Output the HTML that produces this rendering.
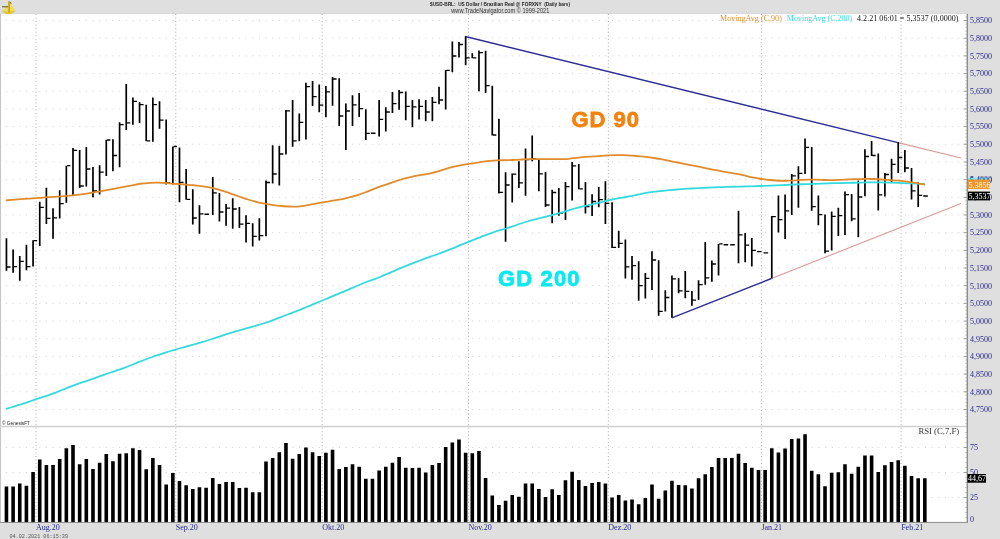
<!DOCTYPE html><html><head><meta charset="utf-8"><title>USD-BRL</title><style>html,body{margin:0;padding:0;background:#fff;width:1000px;height:539px;overflow:hidden}svg{display:block}text{font-family:"Liberation Serif","Times New Roman",serif}.s{font-family:"Liberation Sans",Arial,sans-serif}.m{font-family:"Liberation Mono","Courier New",monospace}</style></head><body>
<svg width="1000" height="539" viewBox="0 0 1000 539">
<rect x="0" y="0" width="1000" height="539" fill="#ffffff"/>
<rect x="0" y="0" width="1000" height="14" fill="#dfdfdf"/>
<rect x="0" y="12.6" width="1000" height="1.4" fill="#dadada"/>
<rect x="968" y="0" width="32" height="539" fill="#dfdfdf"/>
<rect x="0" y="522.5" width="1000" height="16.5" fill="#dfdfdf"/>
<rect x="0" y="14" width="1" height="508.5" fill="#c4c4c4"/>
<path d="M1 20.5H966.5M1 38.18H966.5M1 55.86H966.5M1 73.54H966.5M1 91.22H966.5M1 108.9H966.5M1 126.58H966.5M1 144.26H966.5M1 161.94H966.5M1 179.62H966.5M1 197.3H966.5M1 214.98H966.5M1 232.66H966.5M1 250.34H966.5M1 268.02H966.5M1 285.7H966.5M1 303.38H966.5M1 321.06H966.5M1 338.74H966.5M1 356.42H966.5M1 374.1H966.5M1 391.78H966.5M1 409.46H966.5M1 447.5H966.5M1 472.5H966.5M1 497.5H966.5" stroke="#d0d0d0" stroke-width="1" stroke-dasharray="1 5.66" stroke-dashoffset="-4.95" fill="none"/>
<path d="M36 14V522.5M175.75 14V522.5M322.17 14V522.5M468.57 14V522.5M608.33 14V522.5M761.39 14V522.5M901.15 14V522.5" stroke="#a8a8a8" stroke-width="1" stroke-dasharray="1 2.536" fill="none"/>
<rect x="0" y="425.75" width="967.5" height="1.5" fill="#d0d0d0"/>
<path d="M898 142.6L961 158M771.4 278.5L961 203.6" stroke="#d89a98" stroke-width="1.1" fill="none"/>
<path d="M5.6 238.2h1.7v32.5h-1.7zM7.3 266.35h3.2v1.3h-3.2zM12.26 249.4h1.7v23.3h-1.7zM13.96 265.95h3.2v1.3h-3.2zM18.91 256h1.7v24.7h-1.7zM20.61 260.75h3.2v1.3h-3.2zM25.57 244.7h1.7v25.6h-1.7zM27.27 265.95h3.2v1.3h-3.2zM32.22 240.3h1.7v26.3h-1.7zM33.92 240.05h3.2v1.3h-3.2zM38.88 201.7h1.7v44.2h-1.7zM40.58 206.65h3.2v1.3h-3.2zM45.53 187.8h1.7v36.2h-1.7zM47.23 217.75h3.2v1.3h-3.2zM52.19 208.2h1.7v30.6h-1.7zM53.89 217.15h3.2v1.3h-3.2zM58.84 190.2h1.7v28.2h-1.7zM60.54 202.95h3.2v1.3h-3.2zM65.5 165.7h1.7v37.1h-1.7zM67.2 165.05h3.2v1.3h-3.2zM72.15 148h1.7v47h-1.7zM73.85 149.75h3.2v1.3h-3.2zM78.81 149.9h1.7v38.1h-1.7zM80.51 185.35h3.2v1.3h-3.2zM85.46 147.1h1.7v39.3h-1.7zM87.16 168.35h3.2v1.3h-3.2zM92.12 167.1h1.7v30.1h-1.7zM93.82 190.35h3.2v1.3h-3.2zM98.77 165.3h1.7v29.1h-1.7zM100.47 171.55h3.2v1.3h-3.2zM105.43 139.7h1.7v36.2h-1.7zM107.13 139.35h3.2v1.3h-3.2zM112.08 139.3h1.7v31.9h-1.7zM113.78 154.85h3.2v1.3h-3.2zM118.74 122.3h1.7v44.9h-1.7zM120.44 124.05h3.2v1.3h-3.2zM125.39 83.9h1.7v46.2h-1.7zM127.09 122.25h3.2v1.3h-3.2zM132.05 97.6h1.7v27.1h-1.7zM133.75 100.65h3.2v1.3h-3.2zM138.7 101.9h1.7v21h-1.7zM140.4 104.05h3.2v1.3h-3.2zM145.36 104.7h1.7v36.5h-1.7zM147.06 140.25h3.2v1.3h-3.2zM152.01 97.6h1.7v44.2h-1.7zM153.71 104.05h3.2v1.3h-3.2zM158.67 101.3h1.7v27.5h-1.7zM160.37 119.45h3.2v1.3h-3.2zM165.32 119.5h1.7v65h-1.7zM167.02 182.35h3.2v1.3h-3.2zM171.98 146.5h1.7v38h-1.7zM173.68 145.85h3.2v1.3h-3.2zM178.63 147.4h1.7v54.8h-1.7zM180.33 181.65h3.2v1.3h-3.2zM185.29 169.1h1.7v30.6h-1.7zM186.99 198.75h3.2v1.3h-3.2zM191.94 189.2h1.7v35.2h-1.7zM193.64 217.35h3.2v1.3h-3.2zM198.6 205.3h1.7v28.4h-1.7zM200.3 213.15h3.2v1.3h-3.2zM204.5 213.5h4.6v1.4h-4.6zM211.91 177.1h1.7v38h-1.7zM213.61 192.25h3.2v1.3h-3.2zM218.56 193h1.7v28.5h-1.7zM220.26 211.35h3.2v1.3h-3.2zM225.22 204h1.7v21.7h-1.7zM226.92 207.45h3.2v1.3h-3.2zM231.87 198.2h1.7v30.6h-1.7zM233.57 208.35h3.2v1.3h-3.2zM238.53 207.1h1.7v20.8h-1.7zM240.23 223.55h3.2v1.3h-3.2zM245.18 215.3h1.7v27.1h-1.7zM246.88 222.65h3.2v1.3h-3.2zM251.84 223.3h1.7v23.2h-1.7zM253.54 235.65h3.2v1.3h-3.2zM258.49 218.3h1.7v22.2h-1.7zM260.19 235.05h3.2v1.3h-3.2zM265.15 180.4h1.7v55.9h-1.7zM266.85 181.85h3.2v1.3h-3.2zM271.8 145.3h1.7v38.2h-1.7zM273.5 173.35h3.2v1.3h-3.2zM278.46 145.7h1.7v39.7h-1.7zM280.16 153.35h3.2v1.3h-3.2zM285.11 110.1h1.7v44.5h-1.7zM286.81 110.15h3.2v1.3h-3.2zM291.77 100.1h1.7v46.7h-1.7zM293.47 140.15h3.2v1.3h-3.2zM298.42 113.4h1.7v27.9h-1.7zM300.12 121.65h3.2v1.3h-3.2zM305.08 82.7h1.7v56.8h-1.7zM306.78 86.05h3.2v1.3h-3.2zM311.73 81.1h1.7v25h-1.7zM313.43 96.05h3.2v1.3h-3.2zM318.39 84.5h1.7v27.8h-1.7zM320.09 104.55h3.2v1.3h-3.2zM325.04 86h1.7v31.2h-1.7zM326.74 91.15h3.2v1.3h-3.2zM331.7 77.1h1.7v28.7h-1.7zM333.4 78.35h3.2v1.3h-3.2zM338.35 78.2h1.7v47.7h-1.7zM340.05 115.35h3.2v1.3h-3.2zM345.01 103.6h1.7v46.4h-1.7zM346.71 110.35h3.2v1.3h-3.2zM351.66 95.3h1.7v30.6h-1.7zM353.36 104.25h3.2v1.3h-3.2zM358.32 93h1.7v24.1h-1.7zM360.02 107.95h3.2v1.3h-3.2zM364.97 109.2h1.7v30.9h-1.7zM366.67 132.65h3.2v1.3h-3.2zM370.88 132.6h4.6v1.4h-4.6zM378.28 99.9h1.7v36.5h-1.7zM379.98 118.75h3.2v1.3h-3.2zM384.94 107.3h1.7v24.1h-1.7zM386.64 111.35h3.2v1.3h-3.2zM391.59 91.9h1.7v21h-1.7zM393.29 102.95h3.2v1.3h-3.2zM398.25 90.1h1.7v19.6h-1.7zM399.95 91.85h3.2v1.3h-3.2zM404.9 91.5h1.7v28.8h-1.7zM406.6 105.75h3.2v1.3h-3.2zM411.56 99.9h1.7v27.3h-1.7zM413.26 106.15h3.2v1.3h-3.2zM418.21 99.3h1.7v20.1h-1.7zM419.91 105.75h3.2v1.3h-3.2zM424.87 99.9h1.7v21.3h-1.7zM426.57 111.35h3.2v1.3h-3.2zM431.52 97h1.7v24.2h-1.7zM433.22 101.75h3.2v1.3h-3.2zM438.18 86.8h1.7v17.5h-1.7zM439.88 99.35h3.2v1.3h-3.2zM444.83 69.9h1.7v39.5h-1.7zM446.53 69.75h3.2v1.3h-3.2zM451.49 41.5h1.7v30.8h-1.7zM453.19 55.35h3.2v1.3h-3.2zM458.14 42.1h1.7v15.4h-1.7zM459.84 43.85h3.2v1.3h-3.2zM464.8 36.1h1.7v29.2h-1.7zM466.5 57.15h3.2v1.3h-3.2zM471.45 53.2h1.7v5h-1.7zM473.15 57.15h3.2v1.3h-3.2zM478.11 50.4h1.7v40.8h-1.7zM479.81 51.95h3.2v1.3h-3.2zM484.76 50.8h1.7v42.3h-1.7zM486.46 85.05h3.2v1.3h-3.2zM491.42 85.7h1.7v49.9h-1.7zM493.12 134.35h3.2v1.3h-3.2zM498.07 118.7h1.7v74.8h-1.7zM499.77 191.75h3.2v1.3h-3.2zM504.73 172.3h1.7v69.5h-1.7zM506.43 184.35h3.2v1.3h-3.2zM511.38 173.5h1.7v28.9h-1.7zM513.08 173.45h3.2v1.3h-3.2zM518.04 161.2h1.7v26.7h-1.7zM519.74 182.15h3.2v1.3h-3.2zM524.69 148.5h1.7v47.2h-1.7zM526.39 158.95h3.2v1.3h-3.2zM531.35 135.6h1.7v25.6h-1.7zM533.05 158.35h3.2v1.3h-3.2zM538 160.1h1.7v31.2h-1.7zM539.7 173.25h3.2v1.3h-3.2zM544.66 172h1.7v35.1h-1.7zM546.36 204.35h3.2v1.3h-3.2zM551.31 189.8h1.7v33.4h-1.7zM553.01 191.85h3.2v1.3h-3.2zM557.97 188.1h1.7v27.7h-1.7zM559.67 212.35h3.2v1.3h-3.2zM564.62 181.9h1.7v38.2h-1.7zM566.32 186.05h3.2v1.3h-3.2zM571.28 162.1h1.7v38.4h-1.7zM572.98 165.15h3.2v1.3h-3.2zM577.93 163.9h1.7v25.4h-1.7zM579.63 188.15h3.2v1.3h-3.2zM584.59 182h1.7v31.6h-1.7zM586.29 205.95h3.2v1.3h-3.2zM591.24 194.3h1.7v21.6h-1.7zM592.94 200.85h3.2v1.3h-3.2zM597.9 187h1.7v20.3h-1.7zM599.6 199.05h3.2v1.3h-3.2zM604.55 181.3h1.7v42.7h-1.7zM606.25 202.65h3.2v1.3h-3.2zM611.21 202.2h1.7v45.7h-1.7zM612.91 246.75h3.2v1.3h-3.2zM617.86 230.7h1.7v17.2h-1.7zM619.56 242.75h3.2v1.3h-3.2zM624.52 239.6h1.7v38.8h-1.7zM626.22 266.15h3.2v1.3h-3.2zM631.17 256.1h1.7v23.6h-1.7zM632.87 265.05h3.2v1.3h-3.2zM637.83 261.2h1.7v39.5h-1.7zM639.53 285.05h3.2v1.3h-3.2zM644.48 273h1.7v25.4h-1.7zM646.18 277.75h3.2v1.3h-3.2zM651.14 251.2h1.7v38.9h-1.7zM652.84 259.35h3.2v1.3h-3.2zM657.79 260.2h1.7v55.5h-1.7zM659.49 310.75h3.2v1.3h-3.2zM664.45 290.2h1.7v21.2h-1.7zM666.15 296.85h3.2v1.3h-3.2zM671.1 275.5h1.7v42.3h-1.7zM672.8 278.15h3.2v1.3h-3.2zM677.76 277.9h1.7v15.4h-1.7zM679.46 290.25h3.2v1.3h-3.2zM684.41 271h1.7v27.3h-1.7zM686.11 290.75h3.2v1.3h-3.2zM691.07 290.9h1.7v14.8h-1.7zM692.77 299.45h3.2v1.3h-3.2zM697.72 280.3h1.7v19.8h-1.7zM699.42 284.05h3.2v1.3h-3.2zM704.38 242.1h1.7v42.6h-1.7zM706.08 277.25h3.2v1.3h-3.2zM711.03 260.5h1.7v21.2h-1.7zM712.73 263.35h3.2v1.3h-3.2zM717.69 243.9h1.7v31.5h-1.7zM719.39 243.25h3.2v1.3h-3.2zM723.59 244h4.6v1.4h-4.6zM730.25 244h4.6v1.4h-4.6zM737.65 210.8h1.7v52.5h-1.7zM739.35 234.25h3.2v1.3h-3.2zM744.31 233h1.7v29.2h-1.7zM746.01 244.45h3.2v1.3h-3.2zM750.96 238h1.7v28.4h-1.7zM752.66 249.65h3.2v1.3h-3.2zM756.87 250.9h4.6v1.4h-4.6zM763.52 252.2h4.6v1.4h-4.6zM770.93 216h1.7v62.5h-1.7zM772.63 215.95h3.2v1.3h-3.2zM777.58 195.6h1.7v36.9h-1.7zM779.28 219.05h3.2v1.3h-3.2zM784.24 194.6h1.7v44.4h-1.7zM785.94 210.15h3.2v1.3h-3.2zM790.89 174.1h1.7v40.8h-1.7zM792.59 175.15h3.2v1.3h-3.2zM797.55 166.2h1.7v41.5h-1.7zM799.25 172.75h3.2v1.3h-3.2zM804.2 138.4h1.7v35.5h-1.7zM805.9 146.75h3.2v1.3h-3.2zM810.86 146.9h1.7v63.9h-1.7zM812.56 206.05h3.2v1.3h-3.2zM817.51 195.6h1.7v29.7h-1.7zM819.21 213.95h3.2v1.3h-3.2zM824.17 214.6h1.7v38.6h-1.7zM825.87 250.55h3.2v1.3h-3.2zM830.82 211.5h1.7v39.1h-1.7zM832.52 215.65h3.2v1.3h-3.2zM837.48 207.7h1.7v28.4h-1.7zM839.18 214.95h3.2v1.3h-3.2zM844.13 191.5h1.7v43.4h-1.7zM845.83 193.95h3.2v1.3h-3.2zM850.79 193.9h1.7v27.3h-1.7zM852.49 218.15h3.2v1.3h-3.2zM857.44 180.6h1.7v56.7h-1.7zM859.14 196.35h3.2v1.3h-3.2zM864.1 149.3h1.7v47h-1.7zM865.8 155.85h3.2v1.3h-3.2zM870.75 141h1.7v15h-1.7zM872.45 154.85h3.2v1.3h-3.2zM877.41 153.4h1.7v57h-1.7zM879.11 194.15h3.2v1.3h-3.2zM884.06 173h1.7v23.4h-1.7zM885.76 173.85h3.2v1.3h-3.2zM890.72 158.8h1.7v24.1h-1.7zM892.42 163.65h3.2v1.3h-3.2zM897.37 142.1h1.7v30.9h-1.7zM899.07 156.85h3.2v1.3h-3.2zM904.03 150h1.7v22.3h-1.7zM905.73 167.35h3.2v1.3h-3.2zM910.68 168h1.7v31.6h-1.7zM912.38 190.25h3.2v1.3h-3.2zM917.34 182.3h1.7v24.7h-1.7zM919.04 194.65h3.2v1.3h-3.2zM923.24 195.3h4.6v1.4h-4.6z" fill="#000"/>
<path d="M6 408.9C7.32 408.51 11.42 407.31 13.9 406.55C16.38 405.79 18.58 405.07 20.9 404.32C23.22 403.58 25.48 402.85 27.8 402.08C30.12 401.3 32.47 400.46 34.8 399.68C37.13 398.89 39.48 398.13 41.8 397.38C44.12 396.62 46.38 395.93 48.7 395.12C51.02 394.32 53.38 393.45 55.7 392.55C58.02 391.65 60.28 390.66 62.6 389.73C64.92 388.79 67.28 387.85 69.6 386.95C71.92 386.05 74.18 385.17 76.5 384.32C78.82 383.48 81.17 382.69 83.5 381.9C85.83 381.11 88.18 380.39 90.5 379.6C92.82 378.81 95.08 377.98 97.4 377.15C99.72 376.32 102.08 375.44 104.4 374.62C106.72 373.81 108.98 373.02 111.3 372.25C113.62 371.48 116.02 370.76 118.3 369.97C120.58 369.19 122.72 368.42 125 367.55C127.28 366.68 129.67 365.71 132 364.77C134.33 363.84 136.67 362.84 139 361.93C141.33 361.01 143.67 360.13 146 359.27C148.33 358.42 150.67 357.6 153 356.77C155.33 355.95 157.67 355.11 160 354.33C162.33 353.54 164.67 352.77 167 352.05C169.33 351.33 171.67 350.7 174 350.02C176.33 349.35 178.67 348.67 181 348C183.33 347.33 185.67 346.66 188 346.02C190.33 345.39 192.67 344.81 195 344.18C197.33 343.54 199.67 342.9 202 342.2C204.33 341.5 206.67 340.75 209 340C211.33 339.25 213.67 338.47 216 337.7C218.33 336.93 220.67 336.17 223 335.4C225.33 334.63 227.67 333.85 230 333.1C232.33 332.35 234.67 331.6 237 330.92C239.33 330.25 241.83 329.62 244 329.02C246.17 328.42 247.83 327.92 250 327.32C252.17 326.73 254.67 326.15 257 325.48C259.33 324.8 261.67 324.03 264 323.25C266.33 322.47 268.67 321.63 271 320.78C273.33 319.93 275.67 319.03 278 318.15C280.33 317.27 282.67 316.36 285 315.48C287.33 314.59 289.67 313.72 292 312.82C294.33 311.93 296.67 311.03 299 310.1C301.33 309.17 303.67 308.21 306 307.25C308.33 306.29 310.67 305.31 313 304.35C315.33 303.39 317.67 302.46 320 301.5C322.33 300.54 324.67 299.58 327 298.6C329.33 297.62 331.67 296.58 334 295.6C336.33 294.62 338.67 293.67 341 292.7C343.33 291.73 345.67 290.79 348 289.8C350.33 288.81 352.67 287.76 355 286.75C357.33 285.74 359.67 284.7 362 283.75C364.33 282.8 366.67 281.89 369 281.02C371.33 280.16 373.83 279.4 376 278.57C378.17 277.75 379.83 276.95 382 276.05C384.17 275.15 386.67 274.14 389 273.15C391.33 272.16 393.67 271.09 396 270.1C398.33 269.11 400.67 268.15 403 267.2C405.33 266.25 407.67 265.33 410 264.4C412.33 263.47 414.67 262.51 417 261.6C419.33 260.69 421.67 259.78 424 258.93C426.33 258.07 428.67 257.27 431 256.45C433.33 255.63 435.67 254.84 438 254C440.33 253.16 442.67 252.32 445 251.43C447.33 250.53 449.67 249.58 452 248.62C454.33 247.67 456.67 246.64 459 245.68C461.33 244.71 463.67 243.76 466 242.83C468.33 241.89 470.67 241 473 240.07C475.33 239.15 477.67 238.22 480 237.3C482.33 236.38 484.67 235.41 487 234.55C489.33 233.69 491.83 232.87 494 232.15C496.17 231.43 497.83 230.88 500 230.22C502.17 229.57 504.67 228.97 507 228.25C509.33 227.53 511.67 226.7 514 225.9C516.33 225.1 518.67 224.25 521 223.48C523.33 222.7 525.67 221.95 528 221.25C530.33 220.55 532.67 219.92 535 219.3C537.33 218.68 539.67 218.13 542 217.55C544.33 216.97 546.67 216.4 549 215.83C551.33 215.25 553.67 214.69 556 214.07C558.33 213.46 560.67 212.84 563 212.15C565.33 211.46 567.67 210.65 570 209.93C572.33 209.2 574.67 208.41 577 207.78C579.33 207.14 581.67 206.62 584 206.1C586.33 205.58 588.67 205.18 591 204.65C593.33 204.12 595.67 203.52 598 202.92C600.33 202.33 602.67 201.65 605 201.07C607.33 200.5 609.67 199.98 612 199.5C614.33 199.02 616.67 198.59 619 198.18C621.33 197.76 623.83 197.4 626 197C628.17 196.6 629.83 196.22 632 195.77C634.17 195.33 636.67 194.82 639 194.35C641.33 193.88 643.67 193.38 646 192.98C648.33 192.57 650.67 192.21 653 191.9C655.33 191.59 657.67 191.35 660 191.1C662.33 190.85 664.67 190.62 667 190.4C669.33 190.17 671.67 189.95 674 189.75C676.33 189.55 678.67 189.37 681 189.2C683.33 189.03 685.67 188.87 688 188.72C690.33 188.57 692.67 188.43 695 188.3C697.33 188.17 699.67 188.04 702 187.93C704.33 187.81 706.67 187.7 709 187.6C711.33 187.5 713.67 187.39 716 187.3C718.33 187.21 720.67 187.12 723 187.05C725.33 186.97 727.67 186.92 730 186.85C732.33 186.78 734.67 186.71 737 186.65C739.33 186.59 741.67 186.54 744 186.48C746.33 186.41 747.83 186.37 751 186.28C754.17 186.18 758.83 186.07 763 185.92C767.17 185.77 771.67 185.57 776 185.38C780.33 185.18 784.67 184.96 789 184.77C793.33 184.59 797.67 184.43 802 184.27C806.33 184.12 810.67 183.97 815 183.83C819.33 183.68 823.67 183.53 828 183.4C832.33 183.27 836.67 183.16 841 183.05C845.33 182.94 849.67 182.85 854 182.75C858.33 182.65 862.67 182.51 867 182.45C871.33 182.39 874.83 182.34 880 182.4C885.17 182.46 892.67 182.62 898 182.8C903.33 182.97 907.5 183.22 912 183.45C916.5 183.68 922.83 184.07 925 184.2" stroke="#34dade" stroke-width="1.8" fill="none" stroke-linejoin="round"/>
<path d="M6 200.4C7.42 200.26 10.67 199.85 14.5 199.55C18.33 199.25 24.17 198.9 29 198.57C33.83 198.25 38.67 197.9 43.5 197.57C48.33 197.25 53.17 197.01 58 196.65C62.83 196.29 67.67 195.95 72.5 195.42C77.33 194.9 82.17 194.24 87 193.52C91.83 192.81 96.67 191.98 101.5 191.12C106.33 190.27 111.17 189.3 116 188.4C120.83 187.5 126.5 186.47 130.5 185.7C134.5 184.92 136.75 184.23 140 183.75C143.25 183.27 147 182.98 150 182.8C153 182.62 155.17 182.6 158 182.65C160.83 182.7 164 182.91 167 183.1C170 183.29 173 183.57 176 183.8C179 184.03 182 184.23 185 184.48C188 184.72 191 184.95 194 185.25C197 185.55 200 185.84 203 186.27C206 186.71 209 187.18 212 187.85C215 188.53 218 189.4 221 190.32C224 191.25 227 192.35 230 193.38C233 194.4 236 195.48 239 196.5C242 197.52 245 198.57 248 199.5C251 200.43 254 201.31 257 202.05C260 202.79 263 203.4 266 203.95C269 204.5 272 204.96 275 205.35C278 205.74 281 206.06 284 206.27C287 206.49 290.33 206.64 293 206.65C295.67 206.66 297.75 206.55 300 206.32C302.25 206.1 304.33 205.68 306.5 205.3C308.67 204.92 310.83 204.45 313 204.05C315.17 203.65 317.33 203.27 319.5 202.9C321.67 202.52 323.83 202.16 326 201.8C328.17 201.44 330.33 201.09 332.5 200.73C334.67 200.36 336.83 200.03 339 199.62C341.17 199.22 343.33 198.78 345.5 198.28C347.67 197.78 349.83 197.21 352 196.62C354.17 196.04 356.33 195.46 358.5 194.77C360.67 194.09 362.83 193.31 365 192.5C367.17 191.69 369.33 190.74 371.5 189.9C373.67 189.06 375.83 188.25 378 187.45C380.17 186.65 382.33 185.9 384.5 185.12C386.67 184.35 388.83 183.57 391 182.83C393.17 182.08 395.33 181.34 397.5 180.65C399.67 179.96 401.83 179.3 404 178.7C406.17 178.1 408.33 177.56 410.5 177.05C412.67 176.54 414.58 176.07 417 175.62C419.42 175.18 422.58 174.78 425 174.35C427.42 173.93 429.33 173.56 431.5 173.08C433.67 172.59 435.83 172.04 438 171.43C440.17 170.81 442.33 170.05 444.5 169.38C446.67 168.7 448.83 167.99 451 167.4C453.17 166.81 455.33 166.3 457.5 165.85C459.67 165.4 461.83 165.05 464 164.7C466.17 164.35 468.33 164.06 470.5 163.72C472.67 163.39 474.83 163.05 477 162.7C479.17 162.35 481.33 161.95 483.5 161.65C485.67 161.35 487.83 161.07 490 160.88C492.17 160.68 494.33 160.55 496.5 160.45C498.67 160.35 500.83 160.3 503 160.25C505.17 160.2 507.33 160.19 509.5 160.12C511.67 160.06 513.83 159.98 516 159.88C518.17 159.77 520.33 159.61 522.5 159.5C524.67 159.39 526.83 159.26 529 159.2C531.17 159.14 533.33 159.13 535.5 159.12C537.67 159.12 539.58 159.16 542 159.18C544.42 159.19 546.5 159.21 550 159.2C553.5 159.19 559.75 159.2 563 159.12C566.25 159.05 567.33 158.92 569.5 158.72C571.67 158.53 573.83 158.23 576 157.98C578.17 157.73 580.33 157.44 582.5 157.22C584.67 157.01 586.83 156.83 589 156.68C591.17 156.52 593.33 156.41 595.5 156.28C597.67 156.14 599.83 155.99 602 155.85C604.17 155.71 606.33 155.53 608.5 155.43C610.67 155.32 612.83 155.26 615 155.22C617.17 155.19 619.33 155.18 621.5 155.2C623.67 155.22 625.83 155.23 628 155.32C630.17 155.42 632.33 155.57 634.5 155.75C636.67 155.93 638.83 156.17 641 156.4C643.17 156.63 645.33 156.86 647.5 157.12C649.67 157.39 651.83 157.67 654 158C656.17 158.33 658.33 158.72 660.5 159.12C662.67 159.53 664.75 159.98 667 160.43C669.25 160.87 671.67 161.34 674 161.8C676.33 162.26 678.67 162.74 681 163.2C683.33 163.66 685.67 164.1 688 164.55C690.33 165 692.67 165.43 695 165.9C697.33 166.37 699.67 166.87 702 167.35C704.33 167.83 706.67 168.33 709 168.8C711.33 169.28 713.67 169.75 716 170.2C718.33 170.65 720.67 171.1 723 171.52C725.33 171.95 727.67 172.32 730 172.72C732.33 173.13 734.67 173.52 737 173.95C739.33 174.38 741.83 174.85 744 175.32C746.17 175.8 747.83 176.31 750 176.78C752.17 177.24 754.83 177.7 757 178.1C759.17 178.5 760.83 178.88 763 179.2C765.17 179.52 767.83 179.81 770 180.02C772.17 180.24 773.83 180.38 776 180.5C778.17 180.62 780.83 180.69 783 180.73C785.17 180.76 786.83 180.76 789 180.7C791.17 180.64 793.83 180.49 796 180.35C798.17 180.21 799.83 180 802 179.88C804.17 179.75 806.83 179.62 809 179.57C811.17 179.53 812.83 179.55 815 179.6C817.17 179.65 819.83 179.8 822 179.9C824.17 180 825.83 180.14 828 180.18C830.17 180.21 832.83 180.18 835 180.12C837.17 180.07 838.83 179.93 841 179.82C843.17 179.72 845.83 179.6 848 179.5C850.17 179.4 851.83 179.32 854 179.25C856.17 179.18 858.83 179.13 861 179.07C863.17 179.02 864.83 178.91 867 178.9C869.17 178.89 871.17 178.9 874 179.02C876.83 179.15 881.17 179.45 884 179.65C886.83 179.85 888.67 180.06 891 180.23C893.33 180.39 895.67 180.44 898 180.62C900.33 180.81 902.67 181.05 905 181.35C907.33 181.65 909.67 182.06 912 182.43C914.33 182.79 916.83 183.16 919 183.53C921.17 183.89 924 184.42 925 184.6" stroke="#e08b2c" stroke-width="1.8" fill="none" stroke-linejoin="round"/>
<path d="M465.3 36.5L898 142.6M671.9 317.8L771.4 278.5" stroke="#2c2c96" stroke-width="1.4" fill="none"/>
<path d="M4.65 486.6h3.6V522.5h-3.6zM11.31 486.6h3.6V522.5h-3.6zM17.96 483.6h3.6V522.5h-3.6zM24.62 485.7h3.6V522.5h-3.6zM31.27 471.9h3.6V522.5h-3.6zM37.93 459.5h3.6V522.5h-3.6zM44.58 464.9h3.6V522.5h-3.6zM51.24 464.9h3.6V522.5h-3.6zM57.89 459h3.6V522.5h-3.6zM64.55 448.2h3.6V522.5h-3.6zM71.2 445h3.6V522.5h-3.6zM77.86 464.3h3.6V522.5h-3.6zM84.51 459h3.6V522.5h-3.6zM91.17 469h3.6V522.5h-3.6zM97.82 462.7h3.6V522.5h-3.6zM104.48 454.1h3.6V522.5h-3.6zM111.13 461.2h3.6V522.5h-3.6zM117.79 453.8h3.6V522.5h-3.6zM124.44 453.2h3.6V522.5h-3.6zM131.1 448.2h3.6V522.5h-3.6zM137.75 450h3.6V522.5h-3.6zM144.41 469.2h3.6V522.5h-3.6zM151.06 458h3.6V522.5h-3.6zM157.72 464.9h3.6V522.5h-3.6zM164.37 484.4h3.6V522.5h-3.6zM171.03 472.9h3.6V522.5h-3.6zM177.68 481h3.6V522.5h-3.6zM184.34 485.3h3.6V522.5h-3.6zM190.99 489h3.6V522.5h-3.6zM197.65 487.2h3.6V522.5h-3.6zM204.3 487.7h3.6V522.5h-3.6zM210.96 477.9h3.6V522.5h-3.6zM217.61 484h3.6V522.5h-3.6zM224.27 482h3.6V522.5h-3.6zM230.92 482.1h3.6V522.5h-3.6zM237.58 488.1h3.6V522.5h-3.6zM244.23 487.7h3.6V522.5h-3.6zM250.89 492.3h3.6V522.5h-3.6zM257.54 492.2h3.6V522.5h-3.6zM264.2 461.4h3.6V522.5h-3.6zM270.85 458h3.6V522.5h-3.6zM277.51 452.3h3.6V522.5h-3.6zM284.16 443h3.6V522.5h-3.6zM290.82 458.8h3.6V522.5h-3.6zM297.47 454.1h3.6V522.5h-3.6zM304.13 447.6h3.6V522.5h-3.6zM310.78 452.3h3.6V522.5h-3.6zM317.44 456h3.6V522.5h-3.6zM324.09 452.8h3.6V522.5h-3.6zM330.75 449.7h3.6V522.5h-3.6zM337.4 469h3.6V522.5h-3.6zM344.06 467.1h3.6V522.5h-3.6zM350.71 464.3h3.6V522.5h-3.6zM357.37 466.7h3.6V522.5h-3.6zM364.02 478.8h3.6V522.5h-3.6zM370.68 478.8h3.6V522.5h-3.6zM377.33 470.5h3.6V522.5h-3.6zM383.99 466.7h3.6V522.5h-3.6zM390.64 462.7h3.6V522.5h-3.6zM397.3 457.1h3.6V522.5h-3.6zM403.95 467.7h3.6V522.5h-3.6zM410.61 468h3.6V522.5h-3.6zM417.26 467.7h3.6V522.5h-3.6zM423.92 472.5h3.6V522.5h-3.6zM430.57 464.9h3.6V522.5h-3.6zM437.23 463h3.6V522.5h-3.6zM443.88 446.9h3.6V522.5h-3.6zM450.54 442.6h3.6V522.5h-3.6zM457.19 439.5h3.6V522.5h-3.6zM463.85 452.8h3.6V522.5h-3.6zM470.5 453.2h3.6V522.5h-3.6zM477.16 451h3.6V522.5h-3.6zM483.81 477.9h3.6V522.5h-3.6zM490.47 495.5h3.6V522.5h-3.6zM497.12 505.1h3.6V522.5h-3.6zM503.78 500.7h3.6V522.5h-3.6zM510.43 494.9h3.6V522.5h-3.6zM517.09 496.8h3.6V522.5h-3.6zM523.74 483.4h3.6V522.5h-3.6zM530.4 483.4h3.6V522.5h-3.6zM537.05 489h3.6V522.5h-3.6zM543.71 497h3.6V522.5h-3.6zM550.36 489.2h3.6V522.5h-3.6zM557.02 494.9h3.6V522.5h-3.6zM563.67 480.3h3.6V522.5h-3.6zM570.33 471.8h3.6V522.5h-3.6zM576.98 480.1h3.6V522.5h-3.6zM583.64 485.9h3.6V522.5h-3.6zM590.29 483.1h3.6V522.5h-3.6zM596.95 482h3.6V522.5h-3.6zM603.6 483.4h3.6V522.5h-3.6zM610.26 497.4h3.6V522.5h-3.6zM616.91 495.1h3.6V522.5h-3.6zM623.57 500.5h3.6V522.5h-3.6zM630.22 499.6h3.6V522.5h-3.6zM636.88 504.2h3.6V522.5h-3.6zM643.53 497.9h3.6V522.5h-3.6zM650.19 484.4h3.6V522.5h-3.6zM656.84 498.7h3.6V522.5h-3.6zM663.5 490.5h3.6V522.5h-3.6zM670.15 480.7h3.6V522.5h-3.6zM676.81 484.9h3.6V522.5h-3.6zM683.46 485.3h3.6V522.5h-3.6zM690.12 488.5h3.6V522.5h-3.6zM696.77 478.2h3.6V522.5h-3.6zM703.43 474.2h3.6V522.5h-3.6zM710.08 467.1h3.6V522.5h-3.6zM716.74 458h3.6V522.5h-3.6zM723.39 458h3.6V522.5h-3.6zM730.05 458h3.6V522.5h-3.6zM736.7 453.8h3.6V522.5h-3.6zM743.36 463h3.6V522.5h-3.6zM750.01 467.7h3.6V522.5h-3.6zM756.67 469.9h3.6V522.5h-3.6zM763.32 469.9h3.6V522.5h-3.6zM769.98 448.2h3.6V522.5h-3.6zM776.63 452.5h3.6V522.5h-3.6zM783.29 448.4h3.6V522.5h-3.6zM789.94 438.9h3.6V522.5h-3.6zM796.6 438.4h3.6V522.5h-3.6zM803.25 434.3h3.6V522.5h-3.6zM809.91 470.8h3.6V522.5h-3.6zM816.56 474.2h3.6V522.5h-3.6zM823.22 486.2h3.6V522.5h-3.6zM829.87 472.7h3.6V522.5h-3.6zM836.53 472.3h3.6V522.5h-3.6zM843.18 464.3h3.6V522.5h-3.6zM849.84 473.8h3.6V522.5h-3.6zM856.49 466.7h3.6V522.5h-3.6zM863.15 455.6h3.6V522.5h-3.6zM869.8 455.6h3.6V522.5h-3.6zM876.46 471.9h3.6V522.5h-3.6zM883.11 465.3h3.6V522.5h-3.6zM889.77 462.1h3.6V522.5h-3.6zM896.42 460.3h3.6V522.5h-3.6zM903.08 465.8h3.6V522.5h-3.6zM909.73 476h3.6V522.5h-3.6zM916.39 478.2h3.6V522.5h-3.6zM923.04 478.2h3.6V522.5h-3.6z" fill="#000"/>
<rect x="0" y="521.9" width="968" height="1" fill="#8c8c8c"/>
<rect x="966.6" y="14" width="1.4" height="508.5" fill="#8c8c8c"/>
<path d="M963.5 20.5h3.5M963.5 38.18h3.5M963.5 55.86h3.5M963.5 73.54h3.5M963.5 91.22h3.5M963.5 108.9h3.5M963.5 126.58h3.5M963.5 144.26h3.5M963.5 161.94h3.5M963.5 179.62h3.5M963.5 197.3h3.5M963.5 214.98h3.5M963.5 232.66h3.5M963.5 250.34h3.5M963.5 268.02h3.5M963.5 285.7h3.5M963.5 303.38h3.5M963.5 321.06h3.5M963.5 338.74h3.5M963.5 356.42h3.5M963.5 374.1h3.5M963.5 391.78h3.5M963.5 409.46h3.5M963.5 497.5h3.5M963.5 472.5h3.5M963.5 447.5h3.5" stroke="#a0a0a0" stroke-width="1" fill="none"/>
<path d="M965.4 16.96h1.6M965.4 24.04h1.6M965.4 27.57h1.6M965.4 31.11h1.6M965.4 34.64h1.6M965.4 41.72h1.6M965.4 45.25h1.6M965.4 48.79h1.6M965.4 52.32h1.6M965.4 59.4h1.6M965.4 62.93h1.6M965.4 66.47h1.6M965.4 70h1.6M965.4 77.08h1.6M965.4 80.61h1.6M965.4 84.15h1.6M965.4 87.68h1.6M965.4 94.76h1.6M965.4 98.29h1.6M965.4 101.83h1.6M965.4 105.36h1.6M965.4 112.44h1.6M965.4 115.97h1.6M965.4 119.51h1.6M965.4 123.04h1.6M965.4 130.12h1.6M965.4 133.65h1.6M965.4 137.19h1.6M965.4 140.72h1.6M965.4 147.8h1.6M965.4 151.33h1.6M965.4 154.87h1.6M965.4 158.4h1.6M965.4 165.48h1.6M965.4 169.01h1.6M965.4 172.55h1.6M965.4 176.08h1.6M965.4 183.16h1.6M965.4 186.69h1.6M965.4 190.23h1.6M965.4 193.76h1.6M965.4 200.84h1.6M965.4 204.37h1.6M965.4 207.91h1.6M965.4 211.44h1.6M965.4 218.52h1.6M965.4 222.05h1.6M965.4 225.59h1.6M965.4 229.12h1.6M965.4 236.2h1.6M965.4 239.73h1.6M965.4 243.27h1.6M965.4 246.8h1.6M965.4 253.88h1.6M965.4 257.41h1.6M965.4 260.95h1.6M965.4 264.48h1.6M965.4 271.56h1.6M965.4 275.09h1.6M965.4 278.63h1.6M965.4 282.16h1.6M965.4 289.24h1.6M965.4 292.77h1.6M965.4 296.31h1.6M965.4 299.84h1.6M965.4 306.92h1.6M965.4 310.45h1.6M965.4 313.99h1.6M965.4 317.52h1.6M965.4 324.6h1.6M965.4 328.13h1.6M965.4 331.67h1.6M965.4 335.2h1.6M965.4 342.28h1.6M965.4 345.81h1.6M965.4 349.35h1.6M965.4 352.88h1.6M965.4 359.96h1.6M965.4 363.49h1.6M965.4 367.03h1.6M965.4 370.56h1.6M965.4 377.64h1.6M965.4 381.17h1.6M965.4 384.71h1.6M965.4 388.24h1.6M965.4 395.32h1.6M965.4 398.85h1.6M965.4 402.39h1.6M965.4 405.92h1.6M965.4 413h1.6M965.4 416.53h1.6M965.4 420.07h1.6M965.4 423.6h1.6M965.4 517.5h1.6M965.4 512.5h1.6M965.4 507.5h1.6M965.4 502.5h1.6M965.4 492.5h1.6M965.4 487.5h1.6M965.4 482.5h1.6M965.4 477.5h1.6M965.4 467.5h1.6M965.4 462.5h1.6M965.4 457.5h1.6M965.4 452.5h1.6M965.4 442.5h1.6M965.4 437.5h1.6M965.4 432.5h1.6" stroke="#b4b4b4" stroke-width="1" fill="none"/>
<g font-size="8" fill="#2a2a8a"><text x="970" y="23.3">5,8500</text><text x="970" y="40.98">5,8000</text><text x="970" y="58.66">5,7500</text><text x="970" y="76.34">5,7000</text><text x="970" y="94.02">5,6500</text><text x="970" y="111.7">5,6000</text><text x="970" y="129.38">5,5500</text><text x="970" y="147.06">5,5000</text><text x="970" y="164.74">5,4500</text><text x="970" y="182.42">5,4000</text><text x="970" y="200.1">5,3500</text><text x="970" y="217.78">5,3000</text><text x="970" y="235.46">5,2500</text><text x="970" y="253.14">5,2000</text><text x="970" y="270.82">5,1500</text><text x="970" y="288.5">5,1000</text><text x="970" y="306.18">5,0500</text><text x="970" y="323.86">5,0000</text><text x="970" y="341.54">4,9500</text><text x="970" y="359.22">4,9000</text><text x="970" y="376.9">4,8500</text><text x="970" y="394.58">4,8000</text><text x="970" y="412.26">4,7500</text><text x="970" y="450.3">75</text><text x="970" y="475.3">50</text><text x="970" y="500.3">25</text><text x="970" y="521.8">0</text></g>
<rect x="968" y="177.6" width="22" height="8.8" fill="#7ee8ec"/>
<text x="970" y="183.3" font-size="8" fill="#2a2a8a">5,4000</text>
<rect x="968" y="179.6" width="22" height="9.5" fill="#ee9530"/>
<rect x="968" y="189.1" width="22" height="2.4" fill="#f5eee6"/>
<text x="968.6" y="187.6" font-size="8" fill="#fff">5,3856</text>
<rect x="968" y="191.6" width="22" height="8.8" fill="#000"/>
<text x="968.6" y="198.9" font-size="8" fill="#fff">5,3537</text>
<rect x="967.5" y="474" width="18.5" height="8.7" fill="#000"/>
<text x="968" y="481.2" font-size="8" fill="#fff">44,67</text>
<g font-size="8" fill="#2a2a8a"><text x="36" y="529.8">Aug.20</text><text x="175.75" y="529.8">Sep.20</text><text x="322.17" y="529.8">Okt.20</text><text x="468.57" y="529.8">Nov.20</text><text x="608.33" y="529.8">Dez.20</text><text x="761.39" y="529.8">Jan.21</text><text x="901.15" y="529.8">Feb.21</text></g>
<text class="m" x="9.4" y="537.6" font-size="5.1" fill="#555" textLength="58.6" lengthAdjust="spacingAndGlyphs">04.02.2021 06:15:39</text>
<text class="s" x="430" y="5.9" font-size="5.5" font-weight="bold" fill="#222" textLength="140" lengthAdjust="spacingAndGlyphs">$USD-BRL:&#160; US Dollar / Brazilian Real @ FORXNY&#160; (Daily bars)</text>
<text class="s" x="451.3" y="12.5" font-size="6.3" fill="#333" textLength="98" lengthAdjust="spacingAndGlyphs">www.TradeNavigator.com &#169; 1999-2021</text>
<text x="720" y="20.9" font-size="8" fill="#e48f36" textLength="61.8" lengthAdjust="spacing">MovingAvg (C,90)</text>
<text x="786.8" y="20.9" font-size="8" fill="#3cd8de" textLength="65.4" lengthAdjust="spacing">MovingAvg (C,200)</text>
<text x="857" y="20.9" font-size="8" fill="#111" textLength="101.5" lengthAdjust="spacing">4.2.21 06:01 = 5,3537 (0,0000)</text>
<text x="918.4" y="433.8" font-size="8.7" fill="#333">RSI (C,7,F)</text>
<text class="s" x="2" y="425" font-size="5.8" fill="#222" textLength="28" lengthAdjust="spacingAndGlyphs">&#169; GenesisFT</text>
<text class="s" x="498" y="286.2" font-size="22" font-weight="bold" fill="#0ae9ee" stroke="#0ae9ee" stroke-width="0.8" textLength="81.5" lengthAdjust="spacing">GD 200</text>
<text class="s" x="571.5" y="126.8" font-size="22" font-weight="bold" fill="#f3820f" stroke="#f3820f" stroke-width="0.8" textLength="67.5" lengthAdjust="spacing">GD 90</text>
<g><path d="M3 10.8L8.6 4.2L8.6 11.8Z" fill="#efd845" opacity="0.85"/><path d="M9.6 2L14.9 10.6L9.6 11.6Z" fill="#f1dc4a"/><path d="M1.4 10.3Q8.6 18.2 15.9 10.3Q8.6 13 1.4 10.3Z" fill="#e4c42a"/><rect x="8.1" y="1.2" width="1.9" height="11.2" fill="#c9a922"/><rect x="2" y="6" width="6.2" height="1.4" fill="#86793a"/><path d="M10 2.1L11.4 3.9" stroke="#8c7c32" stroke-width="1.1"/></g>
</svg></body></html>
